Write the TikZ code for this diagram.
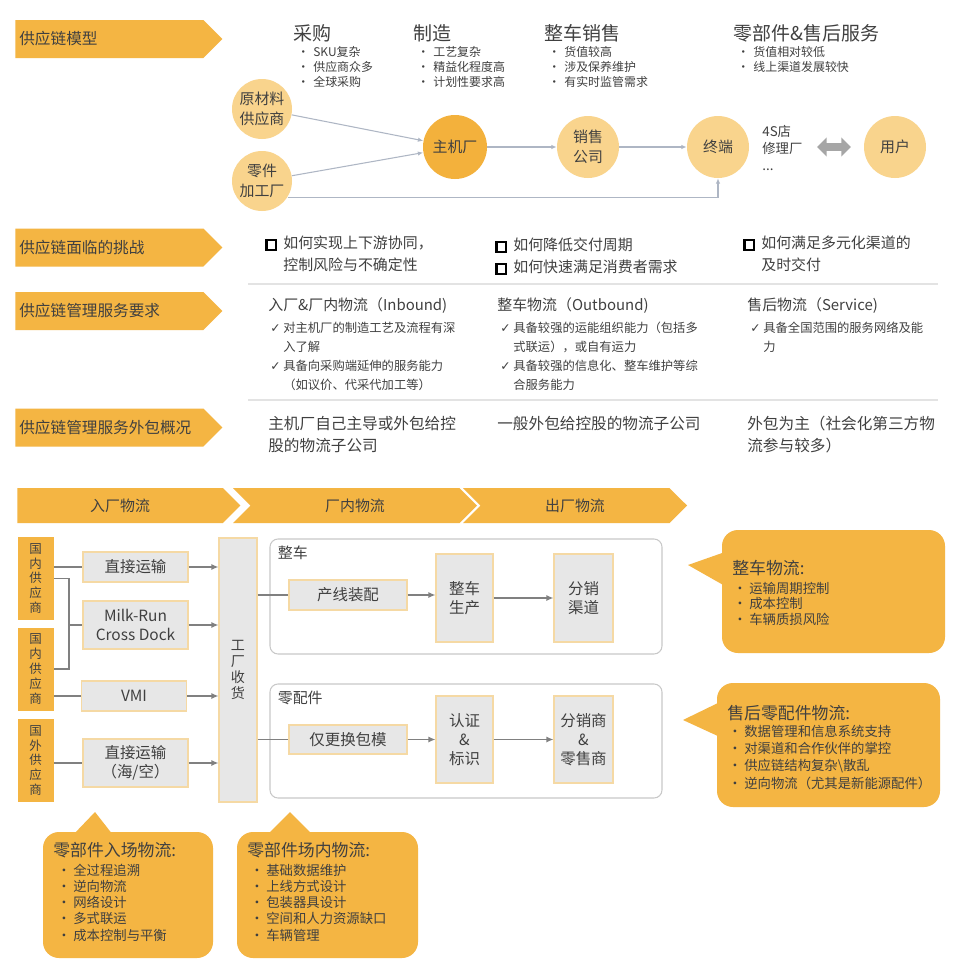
\documentclass[tikz,border=0pt]{standalone}
\usepackage{fontspec}
\setmainfont{Noto Sans CJK SC}
\newfontfamily\symfont{DejaVu Sans}
\usetikzlibrary{positioning, shapes.symbols, arrows.meta}

\newlength\pxl \setlength\pxl{0.02cm}
\definecolor{orng}{HTML}{F4B543}
\definecolor{lorng}{HTML}{F9D48D}
\definecolor{morng}{HTML}{F3B13C}
\definecolor{txt}{HTML}{404040}
\definecolor{boxgray}{HTML}{E7E7E7}
\definecolor{boxedge}{HTML}{F5D9A4}
\definecolor{grpgray}{HTML}{C8C8C8}
\definecolor{flowgray}{HTML}{AEB6C4}
\definecolor{conngray}{HTML}{808080}
\definecolor{arrgray}{HTML}{A6A6A6}
\definecolor{sepgray}{HTML}{E3E3E3}
\newcommand\fs[2]{\fontsize{#1}{#2}\selectfont}
\newcommand\bul{\makebox[16\pxl][l]{•}}
\newcommand\chk{\makebox[13\pxl][l]{\symfont ✓}}
\newcommand\sq{\makebox[18\pxl][l]{\raisebox{-0.3pt}{\color{black}\setlength\fboxrule{1.3pt}\setlength\fboxsep{0pt}\fbox{\rule{0pt}{4.3pt}\hspace{4.3pt}}}}}

\begin{document}
\begin{tikzpicture}[x=0.02cm, y=-0.02cm, every node/.style={text=txt, inner sep=0pt}]
  % Define styles for nodes
  \tikzset{
    banner/.style={signal, signal to=east, signal pointer angle=90, fill=orng, minimum height=38\pxl, minimum width=207\pxl, text width=180\pxl, align=left, inner xsep=4\pxl, anchor=west, font=\fs{8.9}{10}},
    chev/.style={signal, signal to=east, signal from=west, signal pointer angle=90, fill=orng, minimum height=35\pxl, font=\fs{8.5}{10}},
    circ/.style={circle, fill=lorng, minimum size=60\pxl, align=center, font=\fs{8.5}{11.4}},
    flow/.style={draw=flowgray, line width=0.6pt, -{Latex[length=3pt,width=2.5pt]}},
    ttl/.style={anchor=base west, font=\fs{10.8}{13}},
    blist/.style={anchor=base west, align=left, font=\fs{6.8}{8.5}},
    chal/.style={anchor=base west, align=left, font=\fs{8.5}{12.8}},
    rtitle/.style={anchor=base west, font=\fs{8.5}{10}},
    rlist/.style={anchor=base west, align=left, font=\fs{7}{10.8}},
    outs/.style={anchor=base west, align=left, font=\fs{8.9}{12.5}},
    sepline/.style={draw=sepgray, line width=0.6pt},
    sup/.style={fill=orng, minimum width=36\pxl, minimum height=83\pxl, align=center, font=\fs{7.1}{8.5}},
    gbox/.style={fill=boxgray, draw=boxedge, line width=0.6pt, minimum width=105\pxl, minimum height=30\pxl, align=center, font=\fs{8.8}{11}},
    conn/.style={draw=conngray, line width=1.1pt},
    arr/.style={conn, -{Latex[length=4pt,width=3.5pt]}},
    grp/.style={draw=grpgray, line width=0.6pt, rounded corners=8\pxl, minimum width=392\pxl},
    glbl/.style={font=\fs{8.5}{10}, anchor=north west, xshift=8\pxl, yshift=-7\pxl},
    bubble/.style={fill=orng, rounded corners=16\pxl},
    btitle/.style={anchor=base west, font=\fs{9.6}{11}},
    bitems/.style={anchor=base west, align=left, font=\fs{7.6}{8.8}}
  }
  \fill[white] (0,0) rectangle (960,974);
  \useasboundingbox (0,0) rectangle (960,974);

  % Left banners
  \node[banner] (bmod) at (15,39) {供应链模型};
  \node[banner] (bchal) at (15,247.5) {供应链面临的挑战};
  \node[banner] (breq) at (15,311) {供应链管理服务要求};
  \node[banner] (bout) at (15,427.5) {供应链管理服务外包概况};

  % Supply chain model: stages (multi-line nodes sit on their last baseline)
  \node[ttl] (tcg) at (293,40) {采购};
  \node[blist] (lcg) at (297,86.6) {\bul SKU复杂\\\bul 供应商众多\\\bul 全球采购};
  \node[ttl] (tzz) at (413,40) {制造};
  \node[blist] (lzz) at (417,86.6) {\bul 工艺复杂\\\bul 精益化程度高\\\bul 计划性要求高};
  \node[ttl] (tzx) at (544,40) {整车销售};
  \node[blist] (lzx) at (548,86.6) {\bul 货值较高\\\bul 涉及保养维护\\\bul 有实时监管需求};
  \node[ttl] (tlb) at (733,40) {零部件\&售后服务};
  \node[blist] (llb) at (737,71.6) {\bul 货值相对较低\\\bul 线上渠道发展较快};

  % Supply chain model: circles
  \node[circ] (ycl) at (262,109) {原材料\\供应商};
  \node[circ] (ljc) at (262,181) {零件\\加工厂};
  \node[circ, fill=morng, minimum size=64\pxl] (zjc) at (455,147) {主机厂};
  \node[circ, minimum size=62\pxl] (xsg) at (588,147) {销售\\公司};
  \node[circ, minimum size=62\pxl] (zdu) at (718,147) {终端};
  \node[circ, minimum size=62\pxl] (yhu) at (895,147) {用户};
  \node[anchor=west, align=left, font=\fs{7.6}{9.7}] (mdian) at (762,148) {4S店\\修理厂\\...};
  \coordinate (da) at (817,147);
  \coordinate (db) at (851,147);

  \draw[flow] (ycl) -- (zjc);
  \draw[flow] (ljc) -- (zjc);
  \draw[flow] (zjc) -- (xsg);
  \draw[flow] (xsg) -- (zdu);
  \draw[flow] (ljc.-32) -| (zdu.south);
  \draw[draw=arrgray, line width=4.5pt, {Triangle[length=5.5pt,width=10.5pt]}-{Triangle[length=5.5pt,width=10.5pt]}] (da) -- (db);

  % Separators
  \draw[sepline] (248,284) -- (938,284);
  \draw[sepline] (248,400) -- (938,400);

  % Challenges
  \node[chal] (cha1) at (265,270.7) {\sq 如何实现上下游协同，\\\hspace*{18\pxl}控制风险与不确定性};
  \node[chal] (cha2) at (495,272.5) {\sq 如何降低交付周期\\\sq 如何快速满足消费者需求};
  \node[chal] (cha3) at (743,270.7) {\sq 如何满足多元化渠道的\\\hspace*{18\pxl}及时交付};

  % Requirements
  \node[rtitle] (req1) at (268,310.7) {入厂\&厂内物流（Inbound)};
  \node[rlist] (req1l) at (270,389.7) {\chk 对主机厂的制造工艺及流程有深\\\hspace*{13\pxl}入了解\\\chk 具备向采购端延伸的服务能力\\\hspace*{13\pxl}（如议价、代采代加工等）};
  \node[rtitle] (req2) at (497,310.7) {整车物流（Outbound)};
  \node[rlist] (req2l) at (500,389.7) {\chk 具备较强的运能组织能力（包括多\\\hspace*{13\pxl}式联运），或自有运力\\\chk 具备较强的信息化、整车维护等综\\\hspace*{13\pxl}合服务能力};
  \node[rtitle] (req3) at (747,310.7) {售后物流（Service)};
  \node[rlist] (req3l) at (750,351.7) {\chk 具备全国范围的服务网络及能\\\hspace*{13\pxl}力};

  % Outsourcing
  \node[outs] (out1) at (268,451) {主机厂自己主导或外包给控\\股的物流子公司};
  \node[outs] (out2) at (497,429) {一般外包给控股的物流子公司};
  \node[outs] (out3) at (747,451) {外包为主（社会化第三方物\\流参与较多）};

  % Logistics flow: header chevrons
  \node[chev, signal from=nowhere, minimum width=223\pxl, anchor=west] (hrc) at (17,505.5) {入厂物流};
  \node[chev, minimum width=244\pxl] (hcn) at (355,505.5) {厂内物流};
  \node[chev, minimum width=224\pxl] (hcc) at (575,505.5) {出厂物流};

  % Suppliers and inbound modes
  \node[sup] (gn1) at (35.5,578.5) {国\\内\\供\\应\\商};
  \node[sup] (gn2) at (35.5,669) {国\\内\\供\\应\\商};
  \node[sup] (gw) at (35.5,760.5) {国\\外\\供\\应\\商};

  \node[gbox] (zj1) at (135.5,567) {直接运输};
  \node[gbox, minimum height=48\pxl] (mrun) at (135.5,625) {Milk-Run\\Cross Dock};
  \node[gbox] (vmi) at (134,696) {VMI};
  \node[gbox, minimum height=48\pxl] (zj2) at (135.5,763) {直接运输\\（海/空）};
  \node[gbox, minimum width=38\pxl, minimum height=264\pxl, font=\fs{8}{9.1}] (gcsh) at (238,670) {工\\厂\\收\\货};

  \draw[conn] (zj1.west -| gn1.east) -- (zj1.west);
  \draw[conn] (gn1.east) -- ++(15,0) coordinate (brk) |- (gn2.east);
  \draw[conn] (brk |- mrun.west) -- (mrun.west);
  \draw[conn] (vmi.west -| gn2.east) -- (vmi.west);
  \draw[conn] (zj2.west -| gw.east) -- (zj2.west);
  \draw[arr] (zj1.east) -- (zj1.east -| gcsh.west);
  \draw[arr] (mrun.east) -- (mrun.east -| gcsh.west);
  \draw[arr] (vmi.east) -- (vmi.east -| gcsh.west);
  \draw[arr] (zj2.east) -- (zj2.east -| gcsh.west);

  % In-plant groups
  \node[grp, minimum height=115\pxl, label={[glbl]north west:整车}] (gzc) at (466,596.5) {};
  \node[gbox, minimum width=118\pxl] (cxzp) at (348,595) {产线装配};
  \node[gbox, minimum width=57\pxl, minimum height=88\pxl] (zcsc) at (464.5,598) {整车\\生产};
  \node[gbox, minimum width=59\pxl, minimum height=88\pxl] (fxqd) at (583.5,598) {分销\\渠道};
  \draw[conn] (cxzp.west -| gcsh.east) -- (cxzp.west);
  \draw[arr] (cxzp.east) -- (cxzp.east -| zcsc.west);
  \draw[arr] (zcsc.east) -- (zcsc.east -| fxqd.west);

  \node[grp, minimum height=114\pxl, label={[glbl]north west:零配件}] (glp) at (466,741) {};
  \node[gbox, minimum width=118\pxl, minimum height=29\pxl] (jghb) at (348,739.5) {仅更换包模};
  \node[gbox, minimum width=57\pxl, minimum height=87\pxl] (rzbs) at (464.5,739.5) {认证\\\&\\标识};
  \node[gbox, minimum width=59\pxl, minimum height=87\pxl] (fxls) at (583.5,739.5) {分销商\\\&\\零售商};
  \draw[conn] (jghb.west -| gcsh.east) -- (jghb.west);
  \draw[arr] (jghb.east) -- (jghb.east -| rzbs.west);
  \draw[arr] (rzbs.east) -- (rzbs.east -| fxls.west);

  % Callouts
  \node[bubble, minimum width=223\pxl, minimum height=123\pxl] (pb1) at (833.5,591.5) {};
  \fill[orng] (725,552) -- (688,565) -- (725,586) -- cycle;
  \node[btitle] (pb1t) at (732,574.5) {整车物流:};
  \node[bitems] (pb1l) at (733,624) {\bul 运输周期控制\\\bul 成本控制\\\bul 车辆质损风险};

  \node[bubble, minimum width=223\pxl, minimum height=124\pxl] (pb2) at (828.5,745) {};
  \fill[orng] (720,702) -- (683,720) -- (720,737) -- cycle;
  \node[btitle] (pb2t) at (727,719.5) {售后零配件物流:};
  \node[bitems, font=\fs{7.6}{9.7}] (pb2l) at (728,788) {\bul 数据管理和信息系统支持\\\bul 对渠道和合作伙伴的掌控\\\bul 供应链结构复杂\textbackslash 散乱\\\bul 逆向物流（尤其是新能源配件）};

  \node[bubble, minimum width=170\pxl, minimum height=126\pxl] (pb3) at (128,895) {};
  \fill[orng] (73,835) -- (95,812) -- (113,835) -- cycle;
  \node[btitle] (pb3t) at (53,856.5) {零部件入场物流:};
  \node[bitems, font=\fs{7.6}{9.25}] (pb3l) at (57,940) {\bul 全过程追溯\\\bul 逆向物流\\\bul 网络设计\\\bul 多式联运\\\bul 成本控制与平衡};

  \node[bubble, minimum width=181\pxl, minimum height=126\pxl] (pb4) at (327.5,895) {};
  \fill[orng] (267,835) -- (290,812) -- (313,835) -- cycle;
  \node[btitle] (pb4t) at (247,856.5) {零部件场内物流:};
  \node[bitems, font=\fs{7.6}{9.25}] (pb4l) at (250,940) {\bul 基础数据维护\\\bul 上线方式设计\\\bul 包装器具设计\\\bul 空间和人力资源缺口\\\bul 车辆管理};
\end{tikzpicture}
\end{document}
